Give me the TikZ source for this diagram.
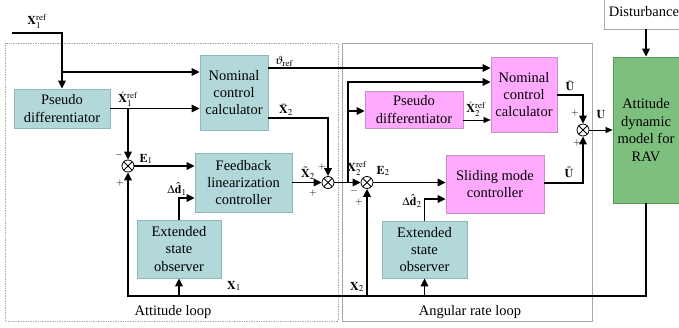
\documentclass[tikz,border=0pt]{standalone}
\usepackage{mathptmx}
\usepackage{fontspec}
\setmainfont{Liberation Serif}
\usetikzlibrary{arrows.meta,calc}

\definecolor{tealfill}{HTML}{B2D8D9}
\definecolor{tealline}{HTML}{8DB9BA}
\definecolor{pinkfill}{HTML}{FFAAFF}
\definecolor{pinkline}{HTML}{C88EC8}
\definecolor{ravfill}{HTML}{7DC07D}
\definecolor{ravline}{HTML}{5C995C}
\definecolor{frame}{HTML}{A8A8A8}

\tikzset{
  blk/.style={draw, line width=0.8pt, align=center, inner sep=1pt,
    font=\fontsize{14.5}{17.4}\selectfont},
  tealbox/.style={blk, fill=tealfill, draw=tealline},
  pinkbox/.style={blk, fill=pinkfill, draw=pinkline},
  ravbox/.style={blk, fill=ravfill, draw=ravline},
  sumj/.style={circle, draw, line width=0.8pt, minimum size=12pt, inner sep=0pt,
    path picture={
      \draw[line width=0.8pt] ([shift={(45:6)}]path picture bounding box.center) -- ([shift={(225:6)}]path picture bounding box.center);
      \draw[line width=0.8pt] ([shift={(135:6)}]path picture bounding box.center) -- ([shift={(315:6)}]path picture bounding box.center);
    }},
  arr/.style={line width=1.6pt, -{Triangle[length=8pt,width=7.5pt]}},
  thinarr/.style={line width=0.6pt, -{Triangle[length=7pt,width=6pt]}},
  lab/.style={inner sep=0pt, font=\fontsize{12}{14}\selectfont},
  sgn/.style={inner sep=0pt, font=\fontsize{10}{12}\selectfont},
  looptitle/.style={inner sep=0pt, font=\fontsize{14.5}{17.4}\selectfont},
}

\begin{document}
\begin{tikzpicture}[x=1pt,y=-1pt]
\useasboundingbox (0,0) rectangle (679,327);

% loop frames
\draw[frame, densely dotted, line width=0.7pt] (5,43) rectangle (338,321);
\draw[frame, line width=0.7pt] (342,43) rectangle (592,321);
\node[looptitle] (attlbl) at (173,312) {Attitude loop};
\node[looptitle] (ratelbl) at (470,312) {Angular rate loop};

% attitude loop blocks
\node[tealbox, minimum width=96pt, minimum height=39pt] (pd1) at (62,108.5) {Pseudo\\differentiator};
\node[tealbox, minimum width=68pt, minimum height=75pt] (nc1) at (234,92.5) {Nominal\\control\\calculator};
\node[tealbox, minimum width=97pt, minimum height=59pt] (fl) at (243.5,182.5) {Feedback\\linearization\\controller};
\node[tealbox, minimum width=84pt, minimum height=58pt] (eso1) at (179,249) {Extended\\state\\observer};

% angular rate loop blocks
\node[pinkbox, minimum width=66pt, minimum height=75pt] (nc2) at (524,94.5) {Nominal\\control\\calculator};
\node[pinkbox, minimum width=98pt, minimum height=37pt] (pd2) at (414,109.5) {Pseudo\\differentiator};
\node[pinkbox, minimum width=98pt, minimum height=58pt] (smc) at (495,184) {Sliding mode\\controller};
\node[tealbox, minimum width=85pt, minimum height=57pt] (eso2) at (424.5,249.5) {Extended\\state\\observer};

% plant and disturbance
\node[ravbox, minimum width=66pt, minimum height=146pt] (rav) at (646,130) {Attitude\\dynamic\\model for\\RAV};
\node[blk, draw=frame, minimum width=80pt, minimum height=34pt] (dist) at (644,12) {Disturbance};

% summing junctions
\node[sumj] (s1) at (128,166) {};
\node[sumj] (s2) at (328,182.5) {};
\node[sumj] (s3) at (367,182.5) {};
\node[sumj] (s4) at (583,130) {};

% attitude loop connections
\coordinate (in) at (12,33);
\coordinate (j1) at (62,72);
\coordinate (j2) at (128,108.5);
\draw[arr] (in) -| (pd1.north);
\draw[arr] (j1) -- (j1 -| nc1.west);
\draw[arr] (pd1.east) -- (pd1.east -| nc1.west);
\draw[arr] (j2) -- (s1.north);
\draw[arr] (s1.east) -- (s1 -| fl.west);
\draw[arr] (eso1.north) |- (fl.west |- 0,198);
\draw[arr] (nc1.east |- 0,68) -- (nc2.west |- 0,68);
\draw[arr] (nc1.east |- 0,118) -| (s2.north);
\draw[arr] (fl.east) -- (s2.west);

% angular rate loop connections
\coordinate (j3) at (348,182.5);
\draw[arr] (s2.east) -- (s3.west);
\draw[arr] (j3) |- (nc2.west |- 0,82);
\draw[arr] (j3 |- 0,111) -- (pd2.west |- 0,111);
\draw[thinarr] (pd2.east |- 0,120) -- (nc2.west |- 0,120);
\draw[arr] (s3.east) -- (s3 -| smc.west);
\draw[arr] (eso2.north) |- (smc.west |- 0,199);
\draw[arr] (smc.east |- 0,183) -| (s4.south);
\draw[arr] (nc2.east |- 0,95) -| (s4.north);
\draw[thinarr] (s4.east) -- (rav.west |- s4);
\draw[arr] (rav.north |- dist.south) -- (rav.north);

% state feedback
\draw[arr] (rav.south) |- (s1.south |- 0,296) -- (s1.south);
\draw[arr] (eso1.south |- 0,296) -- (eso1.south);
\draw[arr] (s3.south |- 0,296) -- (s3.south);
\draw[arr] (eso2.south |- 0,296) -- (eso2.south);

% signal labels
\node[lab] (lx1r) at (37,21) {$\mathbf{X}_1^{\mathrm{ref}}$};
\node[lab] (ldx1r) at (128,99) {$\dot{\mathbf{X}}_1^{\mathrm{ref}}$};
\node[lab] (le1) at (146,159) {$\mathbf{E}_1$};
\node[lab] (ld1) at (177,189) {$\Delta\hat{\mathbf{d}}_1$};
\node[lab] (lth) at (284,61) {$\vartheta_{\mathrm{ref}}$};
\node[lab] (lxb2) at (286,110) {$\bar{\mathbf{X}}_2$};
\node[lab] (lxt2) at (308,173) {$\tilde{\mathbf{X}}_2$};
\node[lab] (lx2r) at (357,168) {$\mathbf{X}_2^{\mathrm{ref}}$};
\node[lab] (le2) at (383,171) {$\mathbf{E}_2$};
\node[lab] (ldx2r) at (476,109) {$\dot{\mathbf{X}}_2^{\mathrm{ref}}$};
\node[lab] (ld2) at (412,201) {$\Delta\hat{\mathbf{d}}_2$};
\node[lab] (lub) at (570,86) {$\bar{\mathbf{U}}$};
\node[lab] (lut) at (569,172) {$\tilde{\mathbf{U}}$};
\node[lab] (lu) at (601,115) {$\mathbf{U}$};
\node[lab] (lx1) at (234,286) {$\mathbf{X}_1$};
\node[lab] (lx2) at (357,287) {$\mathbf{X}_2$};

% junction signs
\node[sgn] (s1m) at (119,155) {$-$};
\node[sgn] (s1p) at (120,183) {$+$};
\node[sgn] (s2pa) at (322,167) {$+$};
\node[sgn] (s2pb) at (313,193) {$+$};
\node[sgn] (s3m) at (354,191) {$-$};
\node[sgn] (s3p) at (359,202) {$+$};
\node[sgn] (s4pa) at (575,113) {$+$};
\node[sgn] (s4pb) at (577,143) {$+$};
\end{tikzpicture}
\end{document}
